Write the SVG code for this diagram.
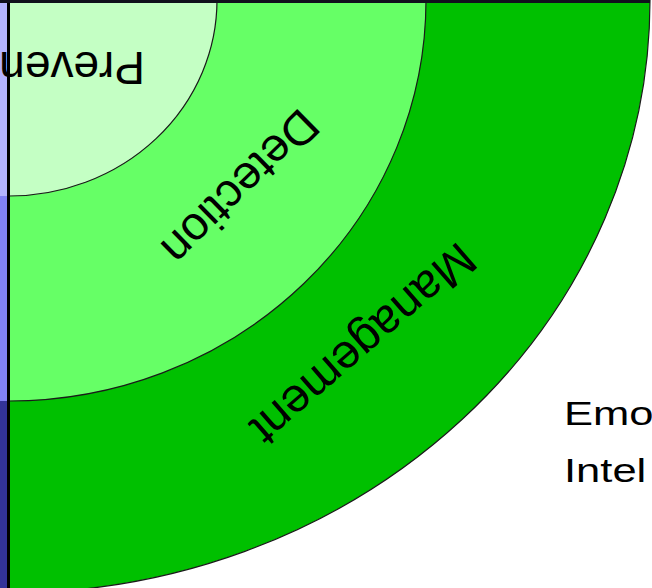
<svg xmlns="http://www.w3.org/2000/svg" width="652" height="588" viewBox="0 0 652 588">
<style>
.ring{stroke:#1a1a1a;stroke-width:1.2}
.lbl{font-family:"Liberation Sans",Arial,sans-serif;fill:#000}
</style>
<rect width="652" height="588" fill="#ffffff"/>
<g id="strip">
<rect x="0" y="0" width="8" height="196" fill="#b4b4ff"/>
<rect x="0" y="196" width="8" height="205" fill="#8282f5"/>
<rect x="0" y="401" width="8" height="187" fill="#333399"/>
</g>
<g id="management">
<path class="ring" d="M9 0 L650 0 A641 593 0 0 1 9 593 Z" fill="#00c000"/>
</g>
<g id="detection">
<path class="ring" d="M9 0 L426 0 A417 401 0 0 1 9 401 Z" fill="#66ff66"/>
</g>
<g id="prevention">
<path class="ring" d="M9 0 L217 0 A208 196 0 0 1 9 196 Z" fill="#c4ffc4"/>
</g>
<g id="frame">
<rect x="7" y="0" width="3" height="588" fill="#000000"/>
<rect x="0" y="0" width="650" height="3" fill="#10101c"/>
</g>
<g id="labels">
<text class="lbl" x="145" y="52" font-size="46" transform="rotate(180 145 52)">Preven</text>
<text class="lbl" x="0" y="17" font-size="47" text-anchor="middle" transform="translate(241 188) rotate(135.5)">Detection</text>
<text class="lbl" x="0" y="17" font-size="48" text-anchor="middle" transform="translate(364 345) rotate(139)">Management</text>
<text class="lbl" x="0" y="0" font-size="33" transform="translate(564 425) scale(1.32 1)">Emo</text>
<text class="lbl" x="0" y="0" font-size="33" transform="translate(564 482) scale(1.32 1)">Intel</text>
</g>
</svg>
